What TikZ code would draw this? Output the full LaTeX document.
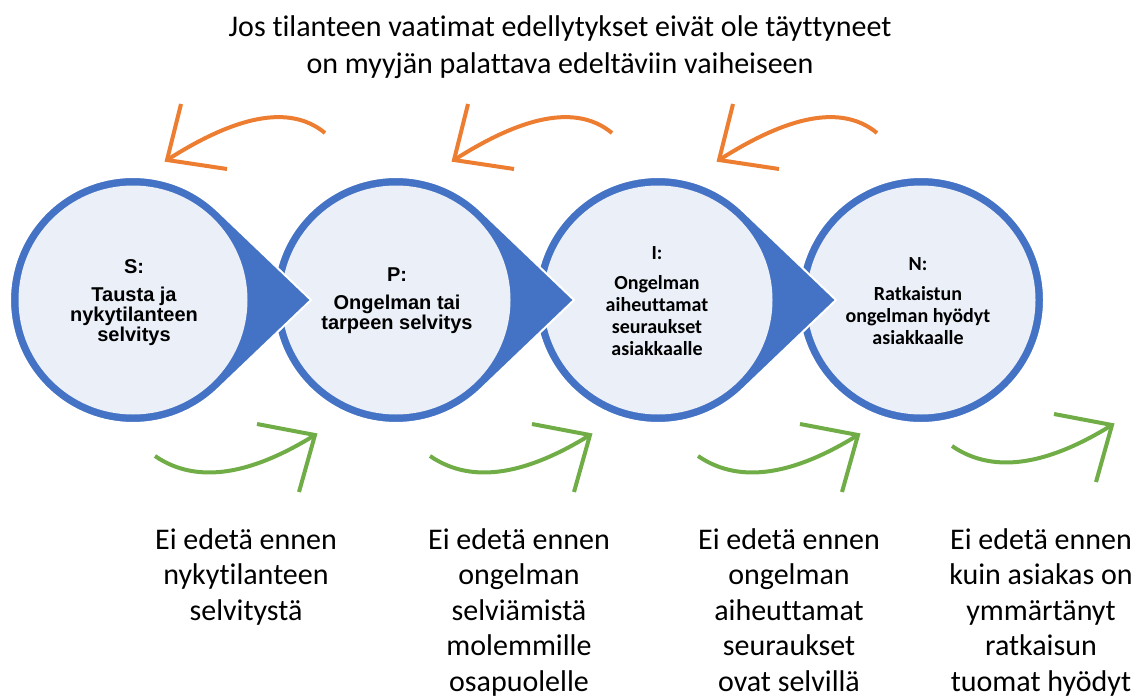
\documentclass[tikz,border=0pt]{standalone}
\usepackage{fontspec}
\setmainfont{Carlito}[Ligatures=NoCommon]
\newfontfamily\arialf{Liberation Sans}
\usetikzlibrary{calc}
\definecolor{ringblue}{HTML}{4472C4}
\definecolor{innerfill}{HTML}{EAEFF8}
\definecolor{backorange}{HTML}{ED7D31}
\definecolor{fwdgreen}{HTML}{70AD47}
\begin{document}
\begin{tikzpicture}[x=1pt,y=-1pt,
  outerring/.style={fill=ringblue, draw=white, line width=2pt},
  innerdisc/.style={circle, fill=innerfill, draw=none, minimum size=229pt, inner sep=0pt},
  arialbl/.style={font=\arialf\bfseries\fontsize{20}{20}\selectfont, align=center, inner sep=0pt, anchor=north},
  calibl/.style={font=\bfseries\fontsize{20}{22}\selectfont, align=center, inner sep=0pt, anchor=north},
  bigtext/.style={font=\fontsize{30}{35.5}\selectfont, align=center, inner sep=0pt, anchor=north},
  backline/.style={draw=backorange, line width=4pt},
  fwdline/.style={draw=fwdgreen, line width=4pt},
  backarrow/.pic={
    \draw[backline] (158,-27) .. controls (118,-60) and (58,-37) .. (0,0);
    \draw[backline] (14,-56) -- (0,0) -- (60,9);
  },
  fwdarrow/.pic={
    \draw[fwdline] (-160,21) .. controls (-115,52) and (-58,36) .. (0,0);
    \draw[fwdline] (-58,-11) -- (0,0) -- (-16,57);
  }
]
\useasboundingbox (0,0) rectangle (1140,698);

% centres
\coordinate (cS) at (133,300);
\coordinate (cP) at (396,300);
\coordinate (cI) at (658,300);
\coordinate (cN) at (921,300);

% N (plain circle)
\path[outerring] (cN) circle[radius=123pt];
\node[innerdisc] (N) at (cN) {};
% I
\path[outerring] (cI) ++(46:123pt) arc[start angle=46, end angle=314, radius=123pt] -- ($(cI)+(178pt,0)$) -- cycle;
\node[innerdisc] (I) at (cI) {};
% P
\path[outerring] (cP) ++(46:123pt) arc[start angle=46, end angle=314, radius=123pt] -- ($(cP)+(178pt,0)$) -- cycle;
\node[innerdisc] (P) at (cP) {};
% S
\path[outerring] (cS) ++(46:123pt) arc[start angle=46, end angle=314, radius=123pt] -- ($(cS)+(178pt,0)$) -- cycle;
\node[innerdisc] (S) at (cS) {};

% circle texts
\node[arialbl] (Stxt) at (134,259) {S:\\[8pt]Tausta ja\\nykytilanteen\\selvitys};
\node[arialbl] (Ptxt) at (397,268) {P:\\[8pt]Ongelman tai\\tarpeen selvitys};
\node[calibl] (Itxt) at (657,246) {I:\\[8pt]Ongelman\\aiheuttamat\\seuraukset\\asiakkaalle};
\node[calibl] (Ntxt) at (918,257) {N:\\[8pt]Ratkaistun\\ongelman hyödyt\\asiakkaalle};

% top text
\node[bigtext, font=\fontsize{30}{37}\selectfont] (title) at (560,15) {Jos tilanteen vaatimat edellytykset eivät ole täyttyneet\\on myyjän palattava edeltäviin vaiheiseen};

% orange back arrows
\pic (ob1) at (167,160) {backarrow};
\pic (ob2) at (454,160) {backarrow};
\pic (ob3) at (719,160) {backarrow};

% green forward arrows
\pic (gf1) at (315,435) {fwdarrow};
\pic (gf2) at (590,435) {fwdarrow};
\pic (gf3) at (858,435) {fwdarrow};
\pic (gf4) at (1112,425) {fwdarrow};

% bottom texts
\node[bigtext] (b1) at (246,528) {Ei edetä ennen\\nykytilanteen\\selvitystä};
\node[bigtext] (b2) at (519,528) {Ei edetä ennen\\ongelman\\selviämistä\\molemmille\\osapuolelle};
\node[bigtext] (b3) at (789,528) {Ei edetä ennen\\ongelman\\aiheuttamat\\seuraukset\\ovat selvillä};
\node[bigtext] (b4) at (1041,528) {Ei edetä ennen\\kuin asiakas on\\ymmärtänyt\\ratkaisun\\tuomat hyödyt};
\end{tikzpicture}
\end{document}
